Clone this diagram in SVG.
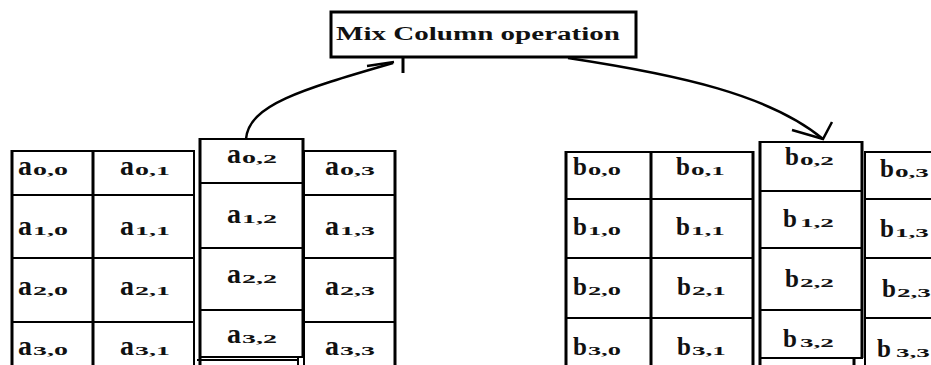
<svg xmlns="http://www.w3.org/2000/svg" width="931" height="365" viewBox="0 0 931 365">
<style>
.cell{fill:none;stroke:#000;stroke-width:2}
.v{stroke:#000;stroke-width:3;fill:none}
.lbl{font-family:"Liberation Serif","Times New Roman",serif;font-weight:bold;fill:#111}
.ba{font-size:28px}
.bb{font-size:25px}
.sub{font-size:13.5px}
.title{font-family:"Liberation Serif","Times New Roman",serif;font-weight:bold;font-size:18.5px;fill:#111}
.conn{fill:none;stroke:#000;stroke-width:2.5}
</style>
<rect width="931" height="365" fill="#fff"/>

<g id="mix-column">
<rect x="331" y="12" width="305" height="45" fill="#fff" stroke="#000" stroke-width="3"/>
<text class="title" x="336" y="40" textLength="284" lengthAdjust="spacingAndGlyphs">Mix Column operation</text>
</g>

<g id="matrix-a">
<g id="a00"><rect class="cell" x="12" y="151" width="81" height="44"/><text class="lbl" x="18" y="175"><tspan class="ba">a</tspan><tspan class="sub" dx="1" textLength="35" lengthAdjust="spacingAndGlyphs">0,0</tspan></text></g>
<g id="a01"><rect class="cell" x="93" y="151" width="101" height="44"/><text class="lbl" x="120" y="175"><tspan class="ba">a</tspan><tspan class="sub" dx="1" textLength="35" lengthAdjust="spacingAndGlyphs">0,1</tspan></text></g>
<g id="a03"><rect class="cell" x="304" y="151" width="91" height="44"/><text class="lbl" x="325" y="175"><tspan class="ba">a</tspan><tspan class="sub" dx="1" textLength="35" lengthAdjust="spacingAndGlyphs">0,3</tspan></text></g>
<g id="a10"><rect class="cell" x="12" y="195" width="81" height="63"/><text class="lbl" x="18" y="235"><tspan class="ba">a</tspan><tspan class="sub" dx="1" textLength="35" lengthAdjust="spacingAndGlyphs">1,0</tspan></text></g>
<g id="a11"><rect class="cell" x="93" y="195" width="101" height="63"/><text class="lbl" x="120" y="235"><tspan class="ba">a</tspan><tspan class="sub" dx="1" textLength="35" lengthAdjust="spacingAndGlyphs">1,1</tspan></text></g>
<g id="a13"><rect class="cell" x="304" y="195" width="91" height="63"/><text class="lbl" x="325" y="235"><tspan class="ba">a</tspan><tspan class="sub" dx="1" textLength="35" lengthAdjust="spacingAndGlyphs">1,3</tspan></text></g>
<g id="a20"><rect class="cell" x="12" y="258" width="81" height="64"/><text class="lbl" x="18" y="295"><tspan class="ba">a</tspan><tspan class="sub" dx="1" textLength="35" lengthAdjust="spacingAndGlyphs">2,0</tspan></text></g>
<g id="a21"><rect class="cell" x="93" y="258" width="101" height="64"/><text class="lbl" x="120" y="295"><tspan class="ba">a</tspan><tspan class="sub" dx="1" textLength="35" lengthAdjust="spacingAndGlyphs">2,1</tspan></text></g>
<g id="a23"><rect class="cell" x="304" y="258" width="91" height="64"/><text class="lbl" x="325" y="295"><tspan class="ba">a</tspan><tspan class="sub" dx="1" textLength="35" lengthAdjust="spacingAndGlyphs">2,3</tspan></text></g>
<g id="a30"><rect class="cell" x="12" y="322" width="81" height="60"/><text class="lbl" x="18" y="355"><tspan class="ba">a</tspan><tspan class="sub" dx="1" textLength="35" lengthAdjust="spacingAndGlyphs">3,0</tspan></text></g>
<g id="a31"><rect class="cell" x="93" y="322" width="101" height="60"/><text class="lbl" x="120" y="355"><tspan class="ba">a</tspan><tspan class="sub" dx="1" textLength="35" lengthAdjust="spacingAndGlyphs">3,1</tspan></text></g>
<g id="a33"><rect class="cell" x="304" y="322" width="91" height="60"/><text class="lbl" x="325" y="355"><tspan class="ba">a</tspan><tspan class="sub" dx="1" textLength="35" lengthAdjust="spacingAndGlyphs">3,3</tspan></text></g>
<g id="a02"><rect class="cell" x="200" y="139" width="103" height="44" fill="#fff"/><text class="lbl" x="227" y="163"><tspan class="ba">a</tspan><tspan class="sub" dx="1" textLength="35" lengthAdjust="spacingAndGlyphs">0,2</tspan></text></g>
<g id="a12"><rect class="cell" x="200" y="183" width="103" height="65"/><text class="lbl" x="227" y="223"><tspan class="ba">a</tspan><tspan class="sub" dx="1" textLength="35" lengthAdjust="spacingAndGlyphs">1,2</tspan></text></g>
<g id="a22"><rect class="cell" x="200" y="248" width="103" height="62"/><text class="lbl" x="227" y="283"><tspan class="ba">a</tspan><tspan class="sub" dx="1" textLength="35" lengthAdjust="spacingAndGlyphs">2,2</tspan></text></g>
<g id="a32"><rect class="cell" x="200" y="310" width="103" height="47"/><text class="lbl" x="227" y="343"><tspan class="ba">a</tspan><tspan class="sub" dx="1" textLength="35" lengthAdjust="spacingAndGlyphs">3,2</tspan></text></g>
<path class="v" d="M12,150V365 M93,150V365 M200,138V365 M303,138V357 M395,150V365"/>
<path class="cell" d="M197,360H298 M298,358V365"/>
</g>

<g id="matrix-b">
<g id="b00"><rect class="cell" x="566" y="152" width="85" height="47"/><text class="lbl" x="573" y="175"><tspan class="bb">b</tspan><tspan class="sub" dx="1" textLength="33" lengthAdjust="spacingAndGlyphs">0,0</tspan></text></g>
<g id="b01"><rect class="cell" x="651" y="152" width="102" height="47"/><text class="lbl" x="676" y="175"><tspan class="bb">b</tspan><tspan class="sub" dx="1" textLength="34" lengthAdjust="spacingAndGlyphs">0,1</tspan></text></g>
<g id="b03"><rect class="cell" x="865" y="152" width="90" height="47"/><text class="lbl" x="880" y="177"><tspan class="bb">b</tspan><tspan class="sub" dx="1" textLength="34" lengthAdjust="spacingAndGlyphs">0,3</tspan></text></g>
<g id="b10"><rect class="cell" x="566" y="199" width="85" height="59"/><text class="lbl" x="573" y="235"><tspan class="bb">b</tspan><tspan class="sub" dx="1" textLength="33" lengthAdjust="spacingAndGlyphs">1,0</tspan></text></g>
<g id="b11"><rect class="cell" x="651" y="199" width="102" height="59"/><text class="lbl" x="676" y="235"><tspan class="bb">b</tspan><tspan class="sub" dx="1" textLength="34" lengthAdjust="spacingAndGlyphs">1,1</tspan></text></g>
<g id="b13"><rect class="cell" x="865" y="199" width="90" height="59"/><text class="lbl" x="880" y="237"><tspan class="bb">b</tspan><tspan class="sub" dx="1" textLength="34" lengthAdjust="spacingAndGlyphs">1,3</tspan></text></g>
<g id="b20"><rect class="cell" x="566" y="258" width="85" height="60"/><text class="lbl" x="573" y="295"><tspan class="bb">b</tspan><tspan class="sub" dx="1" textLength="33" lengthAdjust="spacingAndGlyphs">2,0</tspan></text></g>
<g id="b21"><rect class="cell" x="651" y="258" width="102" height="60"/><text class="lbl" x="677" y="295"><tspan class="bb">b</tspan><tspan class="sub" dx="1" textLength="34" lengthAdjust="spacingAndGlyphs">2,1</tspan></text></g>
<g id="b23"><rect class="cell" x="865" y="258" width="90" height="60"/><text class="lbl" x="882" y="297"><tspan class="bb">b</tspan><tspan class="sub" dx="1" textLength="34" lengthAdjust="spacingAndGlyphs">2,3</tspan></text></g>
<g id="b30"><rect class="cell" x="566" y="318" width="85" height="60"/><text class="lbl" x="573" y="355"><tspan class="bb">b</tspan><tspan class="sub" dx="1" textLength="33" lengthAdjust="spacingAndGlyphs">3,0</tspan></text></g>
<g id="b31"><rect class="cell" x="651" y="318" width="102" height="60"/><text class="lbl" x="677" y="355"><tspan class="bb">b</tspan><tspan class="sub" dx="1" textLength="34" lengthAdjust="spacingAndGlyphs">3,1</tspan></text></g>
<g id="b33"><rect class="cell" x="865" y="318" width="90" height="60"/><text class="lbl" x="877" y="357"><tspan class="bb">b</tspan><tspan class="sub" dx="5" textLength="34" lengthAdjust="spacingAndGlyphs">3,3</tspan></text></g>
<g id="b02"><rect class="cell" x="760" y="142" width="102" height="49" fill="#fff"/><text class="lbl" x="785" y="165"><tspan class="bb">b</tspan><tspan class="sub" dx="1" textLength="34" lengthAdjust="spacingAndGlyphs">0,2</tspan></text></g>
<g id="b12"><rect class="cell" x="760" y="191" width="102" height="57"/><text class="lbl" x="783" y="227"><tspan class="bb">b</tspan><tspan class="sub" dx="3" textLength="34" lengthAdjust="spacingAndGlyphs">1,2</tspan></text></g>
<g id="b22"><rect class="cell" x="760" y="248" width="102" height="62"/><text class="lbl" x="785" y="287"><tspan class="bb">b</tspan><tspan class="sub" dx="1" textLength="34" lengthAdjust="spacingAndGlyphs">2,2</tspan></text></g>
<g id="b32"><rect class="cell" x="760" y="310" width="102" height="48"/><text class="lbl" x="783" y="347"><tspan class="bb">b</tspan><tspan class="sub" dx="3" textLength="34" lengthAdjust="spacingAndGlyphs">3,2</tspan></text></g>
<path class="v" d="M566,151V365 M651,151V365 M753,151V365 M760,141V365 M862,141V358"/>
<path class="v" d="M854,358V365"/>
</g>

<g id="connectors">
<path class="conn" d="M246,139 C249,105 300,90 393,63"/>
<path class="conn" d="M367,66 L394,62"/>
<path class="v" d="M403,57V73"/>
<path class="conn" d="M568,58 C680,75 770,95 823,139"/>
<path class="conn" d="M792,130 L823,139 L832,122"/>
</g>
</svg>
